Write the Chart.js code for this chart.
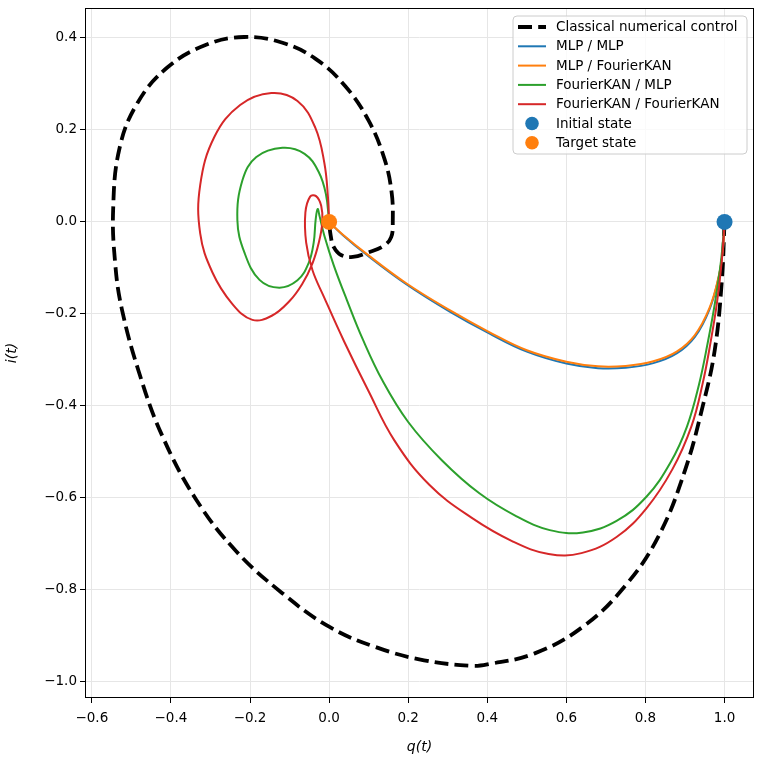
<!DOCTYPE html>
<html>
<head>
<meta charset="utf-8">
<script src="https://cdn.jsdelivr.net/npm/chart.js@4.4.0/dist/chart.umd.min.js"></script>
<style>
html,body{margin:0;padding:0;background:#ffffff;}
#wrap{width:762px;height:760px;}
</style>
</head>
<body>
<div id="wrap"><canvas id="c" width="762" height="760"></canvas></div>
<script>
// ---------- data ----------
const seriesLabels = ["Classical numerical control", "MLP / MLP", "MLP / FourierKAN", "FourierKAN / MLP", "FourierKAN / FourierKAN", "Initial state", "Target state"];

const classicalQ = [1.0, 0.993, 0.975, 0.945, 0.900, 0.835, 0.750, 0.642, 0.520, 0.400, 0.360, 0.240, 0.120, 0.000, -0.120, -0.235, -0.336, -0.423, -0.480, -0.524, -0.541, -0.546, -0.530, -0.485, -0.410, -0.311, -0.215, -0.120, -0.035, 0.040, 0.100, 0.140, 0.158, 0.161, 0.157, 0.138, 0.100, 0.060, 0.030, 0.012, 0.004, 0.0];
const classicalI = [0.0, -0.13, -0.28, -0.40, -0.54, -0.68, -0.79, -0.880, -0.938, -0.962, -0.965, -0.953, -0.925, -0.880, -0.806, -0.716, -0.604, -0.463, -0.329, -0.19, -0.09, 0.03, 0.16, 0.258, 0.335, 0.385, 0.402, 0.390, 0.355, 0.296, 0.220, 0.137, 0.065, 0.0, -0.033, -0.052, -0.066, -0.076, -0.072, -0.055, -0.030, 0.0];

const mlpMlpQ = [1.0, 0.996, 0.985, 0.962, 0.925, 0.879, 0.820, 0.750, 0.680, 0.600, 0.500, 0.406, 0.305, 0.196, 0.094, 0.035, 0.0];
const mlpMlpI = [0.0, -0.06, -0.121, -0.190, -0.250, -0.286, -0.307, -0.317, -0.318, -0.308, -0.282, -0.243, -0.195, -0.136, -0.071, -0.029, 0.0];

const mlpKanQ = [1.0, 0.996, 0.985, 0.962, 0.925, 0.879, 0.820, 0.750, 0.680, 0.600, 0.500, 0.406, 0.305, 0.196, 0.094, 0.035, 0.0];
const mlpKanI = [0.0, -0.06, -0.119, -0.187, -0.246, -0.282, -0.303, -0.313, -0.314, -0.304, -0.279, -0.240, -0.192, -0.134, -0.069, -0.028, 0.0];

const kanMlpQ = [1.0, 0.991, 0.976, 0.957, 0.935, 0.905, 0.864, 0.803, 0.727, 0.642, 0.558, 0.474, 0.380, 0.285, 0.200, 0.135, 0.085, 0.045, 0.012, -0.012, -0.024, -0.029, -0.034, -0.039, -0.052, -0.080, -0.126, -0.176, -0.214, -0.232, -0.219, -0.184, -0.118, -0.062, -0.026, -0.008, 0.0];
const kanMlpI = [0.0, -0.085, -0.175, -0.265, -0.355, -0.445, -0.522, -0.597, -0.650, -0.675, -0.670, -0.640, -0.590, -0.518, -0.435, -0.345, -0.255, -0.17, -0.095, -0.03, 0.012, 0.028, 0.005, -0.045, -0.09, -0.127, -0.143, -0.126, -0.067, 0.004, 0.091, 0.141, 0.161, 0.148, 0.108, 0.06, 0.0];

const kanKanQ = [1.0, 0.993, 0.981, 0.964, 0.945, 0.916, 0.868, 0.803, 0.727, 0.638, 0.555, 0.465, 0.360, 0.254, 0.165, 0.098, 0.038, -0.012, -0.042, -0.058, -0.060, -0.048, -0.033, -0.020, -0.017, -0.026, -0.042, -0.068, -0.100, -0.145, -0.194, -0.245, -0.295, -0.326, -0.326, -0.290, -0.225, -0.146, -0.080, -0.035, -0.012, -0.003, 0.0];
const kanKanI = [0.0, -0.085, -0.175, -0.265, -0.35, -0.445, -0.538, -0.622, -0.685, -0.720, -0.722, -0.695, -0.643, -0.572, -0.475, -0.365, -0.26, -0.165, -0.105, -0.045, 0.02, 0.055, 0.056, 0.035, 0.0, -0.045, -0.09, -0.135, -0.172, -0.204, -0.213, -0.178, -0.11, -0.025, 0.08, 0.185, 0.254, 0.280, 0.263, 0.205, 0.128, 0.055, 0.0];

const initialQ = [1.0];
const initialI = [0.0];
const targetQ = [0.0];
const targetI = [0.0];

const xTicks = [-0.6, -0.4, -0.2, 0.0, 0.2, 0.4, 0.6, 0.8, 1.0];
const xTickLabels = ["\u22120.6", "\u22120.4", "\u22120.2", "0.0", "0.2", "0.4", "0.6", "0.8", "1.0"];
const yTicks = [-1.0, -0.8, -0.6, -0.4, -0.2, 0.0, 0.2, 0.4];
const yTickLabels = ["\u22121.0", "\u22120.8", "\u22120.6", "\u22120.4", "\u22120.2", "0.0", "0.2", "0.4"];
const xTitle = "q(t)";
const yTitle = "i(t)";

// ---------- helpers ----------
function pts(qs, is) { return qs.map((q, k) => ({x: q, y: is[k]})); }

const C_BLUE = "#1f77b4", C_ORANGE = "#ff7f0e", C_GREEN = "#2ca02c", C_RED = "#d62728";

function lineDs(label, qs, is, color, order, extra) {
  return Object.assign({
    label: label, data: pts(qs, is), showLine: true, borderColor: color, backgroundColor: color,
    borderWidth: 2, pointRadius: 0, pointHoverRadius: 0, tension: 0.4, order: order, fill: false,
    borderJoinStyle: "round", legendKind: "line"
  }, extra || {});
}

const datasets = [
  lineDs(seriesLabels[0], classicalQ, classicalI, "#000000", 6, {borderWidth: 3.8, borderDash: [14, 6.2]}),
  lineDs(seriesLabels[1], mlpMlpQ, mlpMlpI, C_BLUE, 5),
  lineDs(seriesLabels[2], mlpKanQ, mlpKanI, C_ORANGE, 4),
  lineDs(seriesLabels[3], kanMlpQ, kanMlpI, C_GREEN, 3),
  lineDs(seriesLabels[4], kanKanQ, kanKanI, C_RED, 2),
  {label: seriesLabels[5], data: pts(initialQ, initialI), showLine: false, pointRadius: 8, pointHoverRadius: 8,
   pointBackgroundColor: C_BLUE, pointBorderWidth: 0, backgroundColor: C_BLUE, borderColor: C_BLUE, order: 1, legendKind: "marker"},
  {label: seriesLabels[6], data: pts(targetQ, targetI), showLine: false, pointRadius: 8, pointHoverRadius: 8,
   pointBackgroundColor: C_ORANGE, pointBorderWidth: 0, backgroundColor: C_ORANGE, borderColor: C_ORANGE, order: 0, legendKind: "marker"}
];

// frame (all four spines)
const framePlugin = {
  id: "frame",
  afterDatasetsDraw(chart) {
    const a = chart.chartArea, ctx = chart.ctx;
    ctx.save();
    ctx.strokeStyle = "#000000";
    ctx.lineWidth = 1;
    ctx.strokeRect(Math.round(a.left) + 0.5, Math.round(a.top) + 0.5, Math.round(a.right - a.left) - 1, Math.round(a.bottom - a.top) - 1);
    ctx.restore();
  }
};

// matplotlib-like legend inside the axes
const legendPlugin = {
  id: "mplLegend",
  afterDraw(chart) {
    const ctx = chart.ctx;
    const a = chart.chartArea;
    const fontPx = 13.5;
    const rowH = 19.3;
    const right = a.right - 7, top = a.top + 8;
    const width = 234, height = 138;
    const left = right - width;
    ctx.save();
    const r = 4;
    ctx.beginPath();
    ctx.moveTo(left + r, top);
    ctx.lineTo(right - r, top); ctx.quadraticCurveTo(right, top, right, top + r);
    ctx.lineTo(right, top + height - r); ctx.quadraticCurveTo(right, top + height, right - r, top + height);
    ctx.lineTo(left + r, top + height); ctx.quadraticCurveTo(left, top + height, left, top + height - r);
    ctx.lineTo(left, top + r); ctx.quadraticCurveTo(left, top, left + r, top);
    ctx.closePath();
    ctx.fillStyle = "rgba(255,255,255,0.8)";
    ctx.fill();
    ctx.strokeStyle = "#cccccc";
    ctx.lineWidth = 1;
    ctx.stroke();
    const hx0 = left + 5, hx1 = left + 33, tx = left + 43;
    ctx.font = fontPx + "px 'DejaVu Sans'";
    ctx.textBaseline = "middle";
    ctx.textAlign = "left";
    chart.data.datasets.forEach((ds, k) => {
      const y = top + 11 + k * rowH;
      if (ds.legendKind === "line") {
        ctx.beginPath();
        ctx.strokeStyle = ds.borderColor;
        ctx.lineWidth = ds.borderWidth;
        ctx.setLineDash(ds.borderDash || []);
        ctx.lineCap = "butt";
        ctx.moveTo(hx0, y); ctx.lineTo(hx1, y);
        ctx.stroke();
        ctx.setLineDash([]);
      } else {
        ctx.beginPath();
        ctx.fillStyle = ds.pointBackgroundColor;
        ctx.arc((hx0 + hx1) / 2, y, 6.8, 0, Math.PI * 2);
        ctx.fill();
      }
      ctx.fillStyle = "#000000";
      ctx.fillText(ds.label, tx, y + 0.5);
    });
    ctx.restore();
  }
};

const tickFont = {family: "'DejaVu Sans'", size: 13.5};
const titleFont = {family: "'DejaVu Sans'", size: 14, style: "italic"};

new Chart(document.getElementById("c"), {
  type: "line",
  data: {datasets: datasets},
  options: {
    responsive: false,
    devicePixelRatio: 1,
    animation: false,
    events: [],
    layout: {padding: {left: 0, right: 8, top: 7, bottom: 0}},
    plugins: {legend: {display: false}, tooltip: {enabled: false}, title: {display: false}},
    scales: {
      x: {
        type: "linear", position: "bottom", min: -0.6173, max: 1.0745,
        afterBuildTicks: (s) => { s.ticks = xTicks.map(v => ({value: v})); },
        afterFit: (s) => { s.height = 62; s.paddingLeft = 0; s.paddingRight = 0; },
        ticks: {font: tickFont, color: "#000000", padding: 7, autoSkip: false, maxRotation: 0,
                callback: (v, idx) => xTickLabels[idx]},
        grid: {color: "#e6e6e6", lineWidth: 1, tickColor: "#000000", tickLength: 5, tickWidth: 1, drawTicks: true},
        border: {display: false},
        title: {display: true, text: xTitle, font: titleFont, color: "#000000", padding: {top: 0, bottom: 4}}
      },
      y: {
        type: "linear", position: "left", min: -1.035, max: 0.465,
        afterBuildTicks: (s) => { s.ticks = yTicks.map(v => ({value: v})); },
        afterFit: (s) => { s.width = 85; s.paddingTop = 0; s.paddingBottom = 0; },
        ticks: {font: tickFont, color: "#000000", padding: 3, autoSkip: false,
                callback: (v, idx) => yTickLabels[idx]},
        grid: {color: "#e6e6e6", lineWidth: 1, tickColor: "#000000", tickLength: 5, tickWidth: 1, drawTicks: true},
        border: {display: false},
        title: {display: true, text: yTitle, font: titleFont, color: "#000000", padding: {top: 4, bottom: 0}}
      }
    }
  },
  plugins: [framePlugin, legendPlugin]
});
</script>
</body>
</html>
